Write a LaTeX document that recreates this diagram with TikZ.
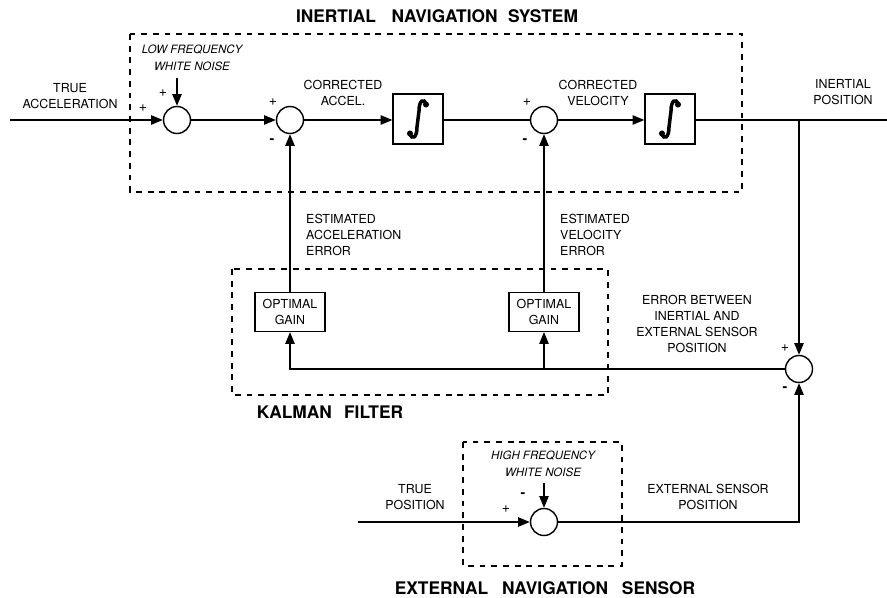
\documentclass[tikz,border=0pt]{standalone}
\usepackage{fontspec}
\setmainfont{TeX Gyre Heros}
\usetikzlibrary{arrows.meta}

\tikzset{
  lbl/.style={font=\fontsize{10.6}{13.4}\selectfont, align=center, inner sep=0pt},
  lbll/.style={lbl, align=left, anchor=west},
  noise/.style={lbl, font=\fontsize{9.8}{14.5}\selectfont\itshape},
  title/.style={font=\fontsize{14.8}{16}\selectfont\bfseries, inner sep=0pt},
  sgn/.style={font=\fontsize{12}{12}\selectfont, inner sep=0pt},
  sumj/.style={circle, draw, line width=1.2pt, minimum size=0.81cm, inner sep=0pt},
  intbox/.style={draw, line width=1.1pt, minimum width=1.5cm, minimum height=1.5cm, inner sep=0pt},
  gainbox/.style={draw, line width=1.1pt, minimum width=2.1cm, minimum height=1.17cm, inner sep=0pt,
    align=center, font=\fontsize{10.6}{13.4}\selectfont},
  sig/.style={line width=1.15pt},
  arr/.style={sig, -{Triangle[length=10pt,width=8pt]}},
  group/.style={line width=1.1pt, dash pattern=on 5pt off 5pt},
  integ/.pic={
    \draw[line width=3pt, line cap=round]
      (8,-15) .. controls (6,-21) and (1,-19) .. (1,-8) -- (-1,8)
      .. controls (-1,19) and (-6,21) .. (-8,15);
    \fill (8,-14.5) circle[radius=2.6pt];
    \fill (-8,14.5) circle[radius=2.6pt];
  }
}

\begin{document}
\begin{tikzpicture}[x=0.03cm, y=-0.03cm]
  \useasboundingbox (0,0) rectangle (887,598);

  % subsystem outlines
  \draw[group] (130,34) rectangle (742,192);
  \draw[group] (232,269) rectangle (608,395);
  \draw[group] (463,442) rectangle (622,566);

  \node[title] (tins) at (437,16) {INERTIAL\hspace{0.9em}NAVIGATION\hspace{0.6em}SYSTEM};
  \node[title] (tkf) at (330,412) {KALMAN\hspace{0.7em}FILTER};
  \node[title] (tens) at (545,588) {EXTERNAL\hspace{0.8em}NAVIGATION\hspace{0.8em}SENSOR};

  % inertial chain
  \coordinate (in) at (10,120);
  \node[sumj] (s1) at (177,120) {};
  \node[sumj] (s2) at (290,120) {};
  \node[intbox] (i1) at (418,119) {};
  \node[sumj] (s3) at (544,120) {};
  \node[intbox] (i2) at (670,119) {};
  \coordinate (br) at (799,120);
  \coordinate (out) at (887,120);
  \coordinate (n1) at (177,78);
  \pic at (i1) {integ};
  \pic at (i2) {integ};

  \draw[arr] (in) -- (s1);
  \draw[arr] (n1) -- (s1);
  \draw[arr] (s1) -- (s2);
  \draw[arr] (s2) -- (i1.west |- s2);
  \draw[sig] (i1.east |- s3) -- (s3);
  \draw[arr] (s3) -- (i2.west |- s3);
  \draw[sig] (i2.east |- s3) -- (out);

  % Kalman filter
  \node[gainbox] (g1) at (290,312) {OPTIMAL\\GAIN};
  \node[gainbox] (g2) at (544,312) {OPTIMAL\\GAIN};
  \node[sumj] (s4) at (799,369) {};
  \draw[arr] (br) -- (s4);
  \draw[arr] (g1) -- (s2);
  \draw[arr] (g2) -- (s3);
  \draw[arr] (s4.west) -| (g1.south);
  \draw[arr] (g2 |- s4.west) -- (g2.south);

  % external sensor
  \coordinate (tp) at (358,522);
  \node[sumj] (s5) at (544,522) {};
  \coordinate (n2) at (544,483);
  \draw[arr] (tp) -- (s5);
  \draw[arr] (n2) -- (s5);
  \draw[arr] (s5) -| (s4);

  % signs at the summing junctions
  \node[sgn] at (143,108) {+};
  \node[sgn] at (163,93) {+};
  \node[sgn] at (273,102) {+};
  \node[sgn] at (272,141) {\textbf{-}};
  \node[sgn] at (527,102) {+};
  \node[sgn] at (525,141) {\textbf{-}};
  \node[sgn] at (785,348) {+};
  \node[sgn] at (785,389) {\textbf{-}};
  \node[sgn] at (506,509) {+};
  \node[sgn] at (523,495) {\textbf{-}};

  % signal labels
  \node[lbl] (ltacc) at (70,96) {TRUE\\ACCELERATION};
  \node[noise] (llfn) at (192,58) {LOW FREQUENCY\\WHITE NOISE};
  \node[lbl] (lca) at (343,93) {CORRECTED\\ACCEL.};
  \node[lbl] (lcv) at (598,93) {CORRECTED\\VELOCITY};
  \node[lbl] (lip) at (843,92) {INERTIAL\\POSITION};
  \node[lbll] (lea) at (306,235) {ESTIMATED\\ACCELERATION\\ERROR};
  \node[lbll] (lev) at (560,235) {ESTIMATED\\VELOCITY\\ERROR};
  \node[lbl] (leb) at (697,324) {ERROR BETWEEN\\INERTIAL AND\\EXTERNAL SENSOR\\POSITION};
  \node[lbl] (ltp) at (415,497) {TRUE\\POSITION};
  \node[noise] (lhfn) at (543,464) {HIGH FREQUENCY\\WHITE NOISE};
  \node[lbl] (lesp) at (708,497) {EXTERNAL SENSOR\\POSITION};
\end{tikzpicture}
\end{document}
